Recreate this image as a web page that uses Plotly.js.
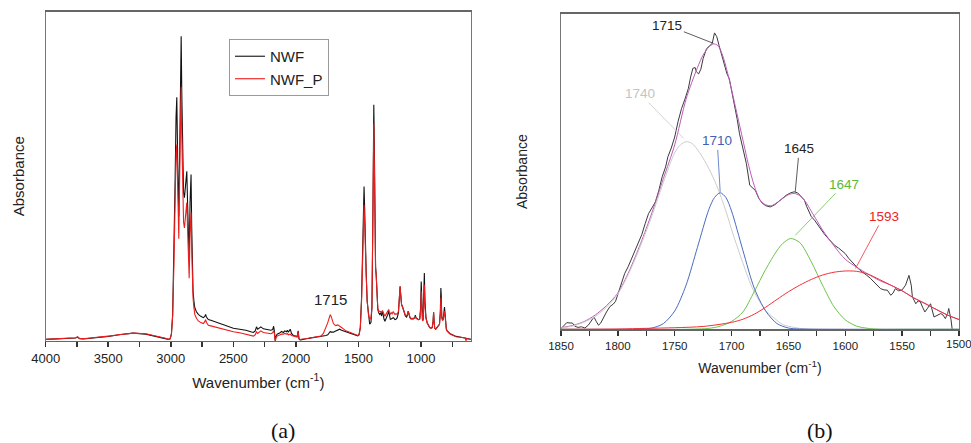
<!DOCTYPE html>
<html>
<head>
<meta charset="utf-8">
<script src="https://cdn.plot.ly/plotly-3.0.1.min.js"></script>
<style>html,body{margin:0;padding:0;background:#fff;}#chart{width:971px;height:443px;}</style>
</head>
<body>
<div id="chart"></div>
<script>
// ---------- Panel (a): full FTIR spectra ----------
var wnA = [4000,3900,3800,3760,3745,3730,3700,3600,3500,3400,3300,3200,3100,3050,3020,3005,2995,2985,2975,2965,2958,2952,2945,2936,2928,2922,2917,2912,2905,2898,2891,2884,2878,2872,2866,2860,2853,2846,2842,2838,2833,2828,2822,2815,2808,2795,2780,2760,2740,2728,2722,2715,2700,2680,2650,2620,2600,2550,2500,2450,2400,2360,2340,2325,2315,2305,2290,2280,2260,2240,2220,2200,2185,2178,2172,2165,2160,2150,2130,2115,2100,2090,2075,2068,2060,2045,2035,2020,2000,1990,1982,1975,1965,1950,1920,1900,1860,1820,1800,1780,1760,1745,1735,1725,1718,1710,1700,1690,1680,1665,1650,1635,1620,1600,1580,1560,1540,1520,1505,1495,1485,1475,1465,1459,1455,1450,1445,1438,1430,1420,1410,1400,1392,1385,1380,1377,1373,1368,1363,1358,1352,1345,1338,1330,1322,1315,1308,1302,1295,1288,1280,1272,1265,1258,1252,1245,1238,1230,1222,1215,1208,1200,1190,1180,1172,1167,1162,1155,1145,1135,1125,1115,1108,1102,1095,1088,1080,1070,1060,1050,1045,1040,1030,1020,1010,1003,998,993,988,983,978,973,968,960,950,940,930,920,910,903,899,895,890,882,872,862,852,845,841,838,834,828,822,816,812,808,803,797,790,780,770,760,750,740,720,700,680,660,645,640,635,620,600];
var nwf = [0.004,0.006,0.006,0.008,0.011,0.006,0.005,0.008,0.013,0.019,0.023,0.020,0.012,0.007,0.004,0.006,0.02,0.08,0.25,0.5,0.68,0.74,0.55,0.378,0.6,0.85,0.925,0.75,0.55,0.45,0.435,0.47,0.5,0.515,0.42,0.3,0.25,0.42,0.5,0.505,0.35,0.22,0.15,0.12,0.1,0.088,0.08,0.074,0.07,0.074,0.08,0.072,0.064,0.062,0.058,0.054,0.05,0.045,0.038,0.035,0.032,0.027,0.025,0.03,0.042,0.035,0.04,0.042,0.036,0.035,0.033,0.032,0.034,0.044,0.03,-0.002,0.012,0.02,0.023,0.028,0.025,0.03,0.027,0.032,0.026,0.035,0.022,0.016,0.014,0.012,0.03,0.005,0.002,0.004,0.006,0.007,0.009,0.011,0.012,0.014,0.016,0.018,0.024,0.028,0.026,0.025,0.026,0.028,0.03,0.032,0.035,0.032,0.03,0.027,0.025,0.022,0.02,0.017,0.015,0.018,0.04,0.13,0.33,0.44,0.469,0.4,0.28,0.207,0.12,0.07,0.05,0.055,0.1,0.35,0.65,0.717,0.6,0.35,0.226,0.2,0.13,0.095,0.085,0.08,0.085,0.075,0.09,0.075,0.065,0.059,0.065,0.075,0.08,0.09,0.075,0.065,0.066,0.068,0.07,0.068,0.064,0.065,0.07,0.085,0.13,0.165,0.14,0.11,0.1,0.085,0.075,0.072,0.078,0.09,0.078,0.07,0.066,0.065,0.066,0.07,0.078,0.07,0.066,0.064,0.066,0.1,0.18,0.1,0.065,0.063,0.12,0.206,0.12,0.07,0.054,0.045,0.04,0.038,0.04,0.06,0.086,0.06,0.038,0.035,0.04,0.042,0.05,0.09,0.16,0.14,0.075,0.063,0.065,0.08,0.102,0.085,0.05,0.035,0.03,0.025,0.022,0.02,0.018,0.016,0.013,0.012,0.011,0.01,0.009,0.008,0.008,0.006,0.004];
var nwfP = [0.004,0.006,0.007,0.009,0.012,0.007,0.006,0.009,0.014,0.019,0.023,0.021,0.013,0.008,0.004,0.006,0.02,0.075,0.23,0.45,0.57,0.596,0.45,0.31,0.52,0.72,0.77,0.62,0.45,0.36,0.343,0.38,0.41,0.42,0.34,0.24,0.19,0.33,0.39,0.39,0.28,0.18,0.13,0.1,0.08,0.068,0.06,0.055,0.052,0.058,0.064,0.056,0.047,0.045,0.042,0.038,0.035,0.032,0.027,0.024,0.02,0.016,0.014,0.018,0.027,0.022,0.028,0.03,0.025,0.024,0.022,0.021,0.024,0.03,0.024,-0.004,0.008,0.014,0.017,0.02,0.02,0.022,0.02,0.022,0.018,0.02,0.016,0.014,0.012,0.011,0.026,0.006,0.003,0.005,0.006,0.007,0.009,0.011,0.014,0.022,0.038,0.055,0.068,0.079,0.074,0.062,0.052,0.048,0.046,0.048,0.045,0.04,0.036,0.03,0.027,0.024,0.021,0.018,0.016,0.018,0.038,0.12,0.3,0.39,0.413,0.36,0.26,0.2,0.12,0.08,0.065,0.07,0.1,0.33,0.6,0.66,0.55,0.34,0.22,0.2,0.13,0.098,0.088,0.09,0.088,0.085,0.092,0.085,0.08,0.074,0.08,0.085,0.088,0.095,0.085,0.08,0.085,0.082,0.088,0.085,0.08,0.082,0.08,0.09,0.13,0.165,0.14,0.11,0.1,0.088,0.078,0.076,0.08,0.09,0.08,0.072,0.068,0.067,0.068,0.07,0.072,0.068,0.066,0.064,0.065,0.09,0.15,0.09,0.062,0.06,0.1,0.17,0.1,0.068,0.054,0.045,0.04,0.038,0.04,0.06,0.086,0.06,0.038,0.035,0.04,0.042,0.05,0.08,0.13,0.12,0.07,0.062,0.063,0.075,0.09,0.078,0.048,0.034,0.029,0.024,0.021,0.019,0.017,0.015,0.012,0.011,0.01,0.009,0.008,-0.005,0.006,0.005,0.003];
var seriesNames = ["NWF", "NWF_P"];
var ticksA = [4000,3500,3000,2500,2000,1500,1000];

// ---------- Panel (b): 1850-1500 cm-1 deconvolution ----------
var wnB = [1850,1847,1845,1842,1840,1838,1835,1832,1829,1826,1823,1821,1819,1817,1815,1813,1810,1807,1804,1802,1800,1797,1794,1791,1788,1785,1782,1779,1776,1773,1770,1767,1764,1761,1758,1756,1753,1750,1747,1744,1741,1738,1736,1734,1732,1731,1729,1727,1725,1722,1719,1717,1715,1713,1711,1709,1706,1704,1702,1700,1698,1695,1693,1690,1687,1684,1681,1679,1676,1673,1670,1666,1662,1659,1655,1652,1648,1645,1642,1639,1636,1634,1632,1630,1627,1624,1621,1618,1615,1612,1609,1606,1603,1600,1597,1593,1590,1587,1584,1581,1578,1575,1572,1569,1566,1563,1560,1558,1556,1553,1550,1547,1544,1542,1541,1538,1536,1534,1532,1530,1528,1525,1522,1519,1516,1514,1512,1510,1509,1507,1506,1504];
var absB = [0.002,0.012,0.021,0.02,0.02,0.01,0.006,0.008,0.004,0.013,0.03,0.039,0.025,0.013,0.02,0.035,0.055,0.072,0.08,0.089,0.113,0.145,0.177,0.198,0.225,0.25,0.275,0.30,0.335,0.367,0.385,0.404,0.44,0.484,0.515,0.547,0.575,0.61,0.66,0.70,0.73,0.764,0.8,0.828,0.83,0.817,0.81,0.825,0.859,0.89,0.9,0.907,0.94,0.928,0.9,0.875,0.835,0.81,0.795,0.76,0.716,0.665,0.62,0.575,0.526,0.457,0.447,0.44,0.415,0.40,0.392,0.388,0.395,0.404,0.415,0.425,0.433,0.436,0.433,0.422,0.41,0.39,0.372,0.358,0.346,0.33,0.314,0.30,0.288,0.275,0.265,0.258,0.25,0.24,0.225,0.208,0.198,0.187,0.18,0.171,0.162,0.15,0.14,0.129,0.125,0.124,0.108,0.115,0.129,0.122,0.125,0.14,0.171,0.14,0.103,0.081,0.09,0.087,0.07,0.055,0.065,0.081,0.039,0.045,0.05,0.045,0.034,0.05,0.066,0.03,0.0,-0.01];

var fitX = [1850,1840,1830,1820,1810,1800,1790,1780,1770,1760,1750,1740,1730,1725,1720,1716,1712,1708,1704,1700,1695,1690,1685,1680,1675,1670,1665,1660,1655,1650,1645,1640,1635,1630,1625,1620,1610,1600,1590,1580,1570,1560,1550,1540,1530,1520,1510,1500];
var fitSum = [0.005,0.012,0.024,0.045,0.075,0.115,0.185,0.272,0.37,0.478,0.585,0.73,0.83,0.87,0.895,0.905,0.9,0.87,0.82,0.76,0.68,0.6,0.52,0.455,0.41,0.395,0.392,0.402,0.415,0.427,0.431,0.424,0.405,0.375,0.345,0.315,0.265,0.222,0.197,0.175,0.155,0.14,0.122,0.1,0.082,0.063,0.045,0.031];

var pk1740X = [1850,1840,1830,1820,1810,1800,1790,1780,1770,1760,1750,1745,1740,1735,1728,1720,1713,1705,1699,1690,1681,1670,1660,1655,1645,1640,1630,1600,1550,1500];
var pk1740Y = [0.004,0.01,0.022,0.04,0.07,0.112,0.18,0.265,0.36,0.465,0.56,0.585,0.595,0.59,0.56,0.51,0.455,0.375,0.305,0.21,0.125,0.06,0.028,0.015,0.006,0.003,0.001,0,0,0];
var pk1710X = [1850,1790,1780,1770,1760,1750,1740,1730,1720,1715,1710,1705,1700,1690,1680,1670,1660,1650,1640,1600,1550,1500];
var pk1710Y = [0,0,0.001,0.004,0.018,0.058,0.14,0.26,0.38,0.418,0.433,0.418,0.375,0.25,0.13,0.058,0.018,0.004,0.001,0,0,0];
var pk1647X = [1850,1740,1720,1710,1700,1690,1680,1670,1660,1655,1648,1640,1630,1620,1610,1600,1590,1580,1570,1550,1500];
var pk1647Y = [0,0,0.003,0.01,0.025,0.055,0.12,0.19,0.25,0.272,0.288,0.275,0.215,0.14,0.072,0.03,0.01,0.003,0,0,0];
var pk1593X = [1850,1800,1775,1750,1725,1700,1690,1680,1670,1660,1650,1640,1630,1620,1610,1600,1595,1590,1580,1570,1560,1550,1540,1530,1520,1510,1500];
var pk1593Y = [0,0.001,0.003,0.005,0.009,0.022,0.032,0.048,0.07,0.095,0.119,0.14,0.158,0.172,0.181,0.185,0.185,0.184,0.175,0.158,0.14,0.122,0.1,0.082,0.063,0.045,0.031];
var ticksB = [1850,1800,1750,1700,1650,1600,1550,1500];

var FONT = "Liberation Sans, Arial, sans-serif";
var TXT = "#222222";

var traces = [
  {x: wnA, y: nwf, name: seriesNames[0], type: "scatter", mode: "lines", xaxis: "x", yaxis: "y",
   line: {color: "#111111", width: 1.1}},
  {x: wnA, y: nwfP, name: seriesNames[1], type: "scatter", mode: "lines", xaxis: "x", yaxis: "y",
   line: {color: "#ee1c1c", width: 1.1}},
  {x: wnB, y: absB, name: "spectrum", showlegend: false, type: "scatter", mode: "lines", xaxis: "x2", yaxis: "y2",
   line: {color: "#3a3a3a", width: 1}},
  {x: fitX, y: fitSum, name: "fit", showlegend: false, type: "scatter", mode: "lines", xaxis: "x2", yaxis: "y2",
   line: {color: "#bb5cb8", width: 1, shape: "spline", smoothing: 0.8}},
  {x: pk1740X, y: pk1740Y, name: "1740", showlegend: false, type: "scatter", mode: "lines", xaxis: "x2", yaxis: "y2",
   line: {color: "#cccccc", width: 1, shape: "spline", smoothing: 0.8}},
  {x: pk1710X, y: pk1710Y, name: "1710", showlegend: false, type: "scatter", mode: "lines", xaxis: "x2", yaxis: "y2",
   line: {color: "#4a6bbf", width: 1, shape: "spline", smoothing: 0.8}},
  {x: pk1647X, y: pk1647Y, name: "1647", showlegend: false, type: "scatter", mode: "lines", xaxis: "x2", yaxis: "y2",
   line: {color: "#6cc24a", width: 1, shape: "spline", smoothing: 0.8}},
  {x: pk1593X, y: pk1593Y, name: "1593", showlegend: false, type: "scatter", mode: "lines", xaxis: "x2", yaxis: "y2",
   line: {color: "#f0303a", width: 1, shape: "spline", smoothing: 0.8}}
];

function xAxis(domain, range, ticks, minor, fs, title, tfs, standoff, anchor) {
  return {
    domain: domain, range: range, anchor: anchor, tickvals: ticks, ticktext: ticks.map(String),
    ticks: "outside", ticklen: 5, tickwidth: 1.5, tickcolor: "#333",
    minor: {tickvals: minor, ticks: "outside", ticklen: 5, tickwidth: 1.2, tickcolor: "#333"},
    showline: true, linecolor: "#666", linewidth: 1.5, mirror: true,
    showgrid: false, zeroline: false,
    tickfont: {family: FONT, size: fs, color: TXT},
    title: {text: title, font: {family: FONT, size: tfs, color: TXT}, standoff: standoff},
    automargin: false, fixedrange: true
  };
}
function yAxis(domain, anchor, tfs, standoff) {
  return {
    domain: domain, range: [0, 1], anchor: anchor,
    showticklabels: false, ticks: "", showgrid: false, zeroline: false,
    showline: true, linecolor: "#777", linewidth: 1.2, mirror: true,
    title: {text: "Absorbance", font: {family: FONT, size: tfs, color: TXT}, standoff: standoff},
    automargin: false, fixedrange: true
  };
}

var minorA = [3750,3250,2750,2250,1750,1250,750];
var minorB = [1825,1775,1725,1675,1625,1575,1525];

var layout = {
  width: 971, height: 443,
  margin: {l: 0, r: 0, t: 0, b: 0},
  paper_bgcolor: "#ffffff", plot_bgcolor: "#ffffff",
  font: {family: FONT, color: TXT},
  xaxis: xAxis([0.04707, 0.48507], [4000, 600], ticksA, minorA, 13, "Wavenumber (cm<sup>-1</sup>)", 15, 12, "y"),
  yaxis: yAxis([0.23093, 0.97359], "x", 15, 16),
  xaxis2: xAxis([0.57775, 0.98764], [1850, 1500], ticksB, minorB, 11.5, "Wavenumber (cm<sup>-1</sup>)", 14, 12, "y2"),
  yaxis2: yAxis([0.25666, 0.96840], "x2", 14, 28),
  showlegend: true,
  legend: {x: 0.2358, y: 0.912, xanchor: "left", yanchor: "top",
           bgcolor: "#ffffff", bordercolor: "#999999", borderwidth: 1,
           font: {family: FONT, size: 15, color: TXT}, tracegroupgap: 0, itemwidth: 30},
  annotations: [
    {xref: "x", yref: "y", x: 1725, y: 0.125, text: "1715", showarrow: false,
     xanchor: "center", yanchor: "middle", font: {family: FONT, size: 15, color: TXT}},
    {xref: "x2", yref: "y2", x: 1716, y: 0.907, text: "1715", showarrow: true, arrowhead: 0, arrowwidth: 0.8,
     arrowcolor: "#333", ax: -46, ay: -18, font: {family: FONT, size: 13.5, color: TXT}},
    {xref: "x2", yref: "y2", x: 1742, y: 0.605, text: "1740", showarrow: true, arrowhead: 0, arrowwidth: 0.8,
     arrowcolor: "#c8c8c8", ax: -44, ay: -45, font: {family: FONT, size: 13.5, color: "#c4c4c4"}},
    {xref: "x2", yref: "y2", x: 1710, y: 0.436, text: "1710", showarrow: true, arrowhead: 0, arrowwidth: 0.8,
     arrowcolor: "#4a6bbf", ax: -3, ay: -51, font: {family: FONT, size: 13.5, color: "#3f5fb5"}},
    {xref: "x2", yref: "y2", x: 1644, y: 0.436, text: "1645", showarrow: true, arrowhead: 0, arrowwidth: 0.8,
     arrowcolor: "#333", ax: 4, ay: -43, font: {family: FONT, size: 13.5, color: TXT}},
    {xref: "x2", yref: "y2", x: 1644, y: 0.298, text: "1647", showarrow: true, arrowhead: 0, arrowwidth: 0.8,
     arrowcolor: "#6cc24a", ax: 49, ay: -51, font: {family: FONT, size: 13.5, color: "#5cb83a"}},
    {xref: "x2", yref: "y2", x: 1591, y: 0.193, text: "1593", showarrow: true, arrowhead: 0, arrowwidth: 0.8,
     arrowcolor: "#f0303a", ax: 28, ay: -52, font: {family: FONT, size: 13.5, color: "#ee2222"}},
    {xref: "x2", yref: "paper", x: 1500, y: 1 - 344 / 443, text: "1500", showarrow: false,
     xanchor: "center", yanchor: "middle", font: {family: FONT, size: 11.5, color: TXT}},
    {xref: "paper", yref: "paper", x: 0.2915, y: 0.029, text: "(a)", showarrow: false,
     xanchor: "center", yanchor: "middle",
     font: {family: "Liberation Serif, Times New Roman, serif", size: 22, color: "#111"}},
    {xref: "paper", yref: "paper", x: 0.8445, y: 0.029, text: "(b)", showarrow: false,
     xanchor: "center", yanchor: "middle",
     font: {family: "Liberation Serif, Times New Roman, serif", size: 22, color: "#111"}}
  ]
};

Plotly.newPlot("chart", traces, layout, {staticPlot: true, displayModeBar: false});
</script>
</body>
</html>
